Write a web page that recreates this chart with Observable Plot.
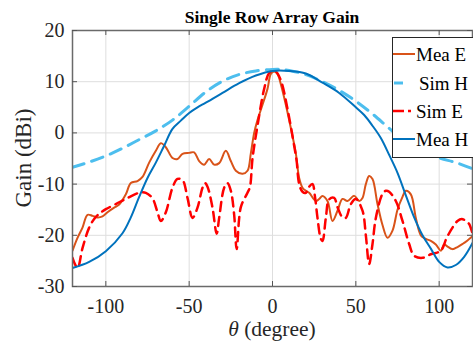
<!DOCTYPE html>
<html><head><meta charset="utf-8">
<script src="https://cdn.jsdelivr.net/npm/d3@7"></script>
<script src="https://cdn.jsdelivr.net/npm/@observablehq/plot@0.6"></script>
<style>body{margin:0;background:#fff} svg{display:block}</style>
</head><body><div id="chart"></div>
<script>
const chartTitle = "Single Row Array Gain";
const xLabelSymbol = "θ";
const xLabelText = " (degree)";
const yLabelText = "Gain (dBi)";
const xTicks = [-100, -50, 0, 50, 100];
const yTicks = [-30, -20, -10, 0, 10, 20];
const seriesNames = ["Mea E", "Sim H", "Sim E", "Mea H"];
const seriesColors = ["#D95319", "#4DBEEE", "#FF0000", "#0072BD"];

const meaEAngle = [-120,-117,-114,-111,-108,-105,-102,-99,-95,-92,-88,-85,-81,-78,-74,-70,-67,-64,-60,-57,-54,-50,-47,-44,-41,-38,-35,-32,-28,-25,-22,-18,-15,-13,-11,-9,-6,-3,-1,1,3,5,8,10,12,14,16,18,20,22,26,28,30,33,36,39,42,45,49,52,54,56,58,60,63,66,69,72,75,78,80,83,86,89,92,95,98,101,103,105,108,111,114,117,120];
const meaEGain = [-23.0,-20.5,-18.5,-16.0,-16.2,-16.5,-16.3,-15.5,-14.6,-14.0,-12.0,-9.8,-9.4,-8.6,-5.8,-3.5,-2.0,-2.8,-4.9,-5.1,-4.1,-3.9,-3.8,-5.5,-6.2,-5.1,-6.2,-5.9,-3.5,-5.5,-7.4,-8.0,-7.4,-4.0,0.0,2.5,5.5,8.6,11.5,12.0,11.5,9.5,5.5,2.5,-0.6,-4.0,-8.8,-10.7,-11.3,-11.7,-13.3,-12.9,-12.3,-13.3,-17.2,-15.2,-12.9,-13.3,-12.3,-13.3,-12.7,-10.0,-8.4,-9.0,-13.9,-18.0,-20.5,-19.1,-15.0,-12.5,-11.3,-12.0,-16.6,-20.0,-20.7,-21.1,-21.8,-23.0,-21.8,-22.2,-22.7,-22.3,-21.7,-21.0,-20.2];

const simHAngle = [-120,-110,-100,-90,-80,-70,-60,-50,-40,-30,-20,-10,0,5,10,20,30,40,50,60,70,80,90,100,110,120];
const simHGain = [-6.7,-5.7,-4.5,-3.0,-1.3,0.4,2.5,5.2,8.0,10.1,11.4,12.1,12.4,12.4,12.2,11.4,10.0,8.3,6.2,3.7,0.9,-1.8,-3.6,-4.9,-5.8,-7.0];

const simEAngle = [-120,-117,-114,-110,-107,-104,-100,-94,-87,-80,-76,-72,-69,-67,-64,-60,-57,-54,-51,-48,-45,-42,-40.5,-39,-36,-33.5,-32,-29,-27,-25,-23,-21.5,-19,-15,-13.5,-12,-9,-5,-2,1,3,5.5,9,13,14.5,16,18,20,22,24,25.5,27,29,30,32,34,37,39,42,44,47,50,54,56,58,60,62,66,68,70,74,78,82,85,90,95,101,104.5,108,111,113.5,116,118,120];
const simEGain = [-24.4,-26.4,-22.5,-18.5,-16.8,-15.8,-14.9,-13.9,-12.7,-11.7,-11.7,-12.8,-15.5,-17.2,-15.5,-10.7,-9.0,-9.2,-12.7,-16.6,-14.6,-10.7,-9.8,-10.5,-14.6,-19.7,-16.6,-10.7,-9.8,-11.3,-16.0,-22.7,-14.5,-11.7,-10.5,-5.0,1.4,8.6,11.7,12.2,11.6,9.8,4.7,-2.5,-5.5,-10.0,-11.5,-11.7,-10.5,-10.0,-12.5,-16.6,-20.7,-21.1,-16.6,-13.0,-12.7,-14.5,-16.5,-16.6,-13.9,-12.9,-15.2,-20.0,-25.6,-21.7,-16.6,-11.9,-11.3,-11.5,-13.3,-17.2,-21.7,-24.0,-24.4,-23.7,-23.0,-20.5,-18.5,-17.2,-16.8,-17.2,-17.8,-19.7];

const meaHAngle = [-120,-110,-100,-90,-85,-80,-75,-70,-65,-60,-55,-50,-45,-40,-30,-20,-10,0,10,20,30,40,50,55,60,65,70,75,80,85,90,95,100,105,110,115,120];
const meaHGain = [-26.4,-25.2,-23.1,-19.6,-16.5,-12.5,-8.8,-5.8,-2.5,0.8,2.4,3.9,5.0,5.9,7.8,9.7,11.2,12.1,12.1,11.6,9.8,7.8,5.0,3.5,1.4,-1.0,-4.3,-7.8,-12.2,-16.5,-20.0,-22.6,-25.2,-26.3,-25.8,-24.2,-21.5];

const toRows = (a, g) => a.map((x, i) => ({x, y: g[i]}));
const series = {
  "Mea E": toRows(meaEAngle, meaEGain),
  "Sim H": toRows(simHAngle, simHGain),
  "Sim E": toRows(simEAngle, simEGain),
  "Mea H": toRows(meaHAngle, meaHGain)
};
const lineStyle = {
  "Mea E": {strokeWidth: 2, strokeDasharray: null},
  "Sim H": {strokeWidth: 3, strokeDasharray: "12,8"},
  "Sim E": {strokeWidth: 2.5, strokeDasharray: "9,6"},
  "Mea H": {strokeWidth: 2, strokeDasharray: null}
};

const W = 473, H = 345, mL = 72, mR = 1, mT = 30, mB = 59;
const fw = W - mL - mR, fh = H - mT - mB;

const marks = [
  Plot.gridX(xTicks, {stroke: "#dedede", strokeOpacity: 1}),
  Plot.gridY(yTicks, {stroke: "#dedede", strokeOpacity: 1}),
];
seriesNames.forEach((name, i) => {
  const s = lineStyle[name];
  marks.push(Plot.line(series[name], {x: "x", y: "y", stroke: seriesColors[i], strokeWidth: s.strokeWidth, strokeDasharray: s.strokeDasharray, curve: "catmull-rom", clip: true}));
});
marks.push(
  Plot.frame({stroke: "#6a6a6a", strokeWidth: 1.5}),
  Plot.tickX(xTicks, {x: d => d, insetTop: fh - 5, stroke: "#555"}),
  Plot.tickX(xTicks, {x: d => d, insetBottom: fh - 5, stroke: "#555"}),
  Plot.tickY(yTicks, {y: d => d, insetRight: fw - 5, stroke: "#555"}),
  Plot.tickY(yTicks, {y: d => d, insetLeft: fw - 5, stroke: "#555"}),
  Plot.axisX({ticks: xTicks, tickSize: 0, tickPadding: 12, label: null, tickFormat: d => String(d)}),
  Plot.axisY({ticks: yTicks, tickSize: 0, tickPadding: 8, label: null, tickFormat: d => String(d)})
);

const plot = Plot.plot({
  width: W, height: H,
  marginLeft: mL, marginRight: mR, marginTop: mT, marginBottom: mB,
  x: {domain: [-120, 120]},
  y: {domain: [-30, 20]},
  style: {fontFamily: "'Liberation Serif', 'Times New Roman', serif", fontSize: "20px", color: "#262626", background: "#fff"},
  marks
});
document.getElementById("chart").appendChild(plot);

const svg = d3.select(plot);
const ff = "'Liberation Serif', 'Times New Roman', serif";
svg.append("text").attr("x", 272).attr("y", 23).attr("text-anchor", "middle")
  .attr("font-family", ff).attr("font-weight", "bold").attr("font-size", 17.5).attr("fill", "#000").text(chartTitle);
const xl = svg.append("text").attr("x", 272).attr("y", 336).attr("text-anchor", "middle")
  .attr("font-family", ff).attr("font-size", 21.5).attr("fill", "#262626");
xl.append("tspan").attr("font-style", "italic").text(xLabelSymbol);
xl.append("tspan").text(xLabelText);
svg.append("text").attr("transform", "translate(31,158) rotate(-90)").attr("text-anchor", "middle")
  .attr("font-family", ff).attr("font-size", 23).attr("fill", "#262626").text(yLabelText);

// legend
const lg = svg.append("g");
lg.append("rect").attr("x", 392.5).attr("y", 37.5).attr("width", 82).attr("height", 120)
  .attr("fill", "#fff").attr("stroke", "#262626").attr("stroke-width", 1);
const legY = [54, 83, 111, 139];
const legDash = {"Mea E": null, "Sim H": "9,30", "Sim E": "11,4"};
seriesNames.forEach((name, i) => {
  const s = lineStyle[name];
  const x1 = name === "Sim H" ? 394 : 393;
  lg.append("line").attr("x1", x1).attr("x2", name === "Sim E" ? 411 : 415)
    .attr("y1", legY[i]).attr("y2", legY[i])
    .attr("stroke", seriesColors[i]).attr("stroke-width", s.strokeWidth)
    .attr("stroke-dasharray", legDash[name] || null);
  lg.append("text").attr("x", name === "Sim H" ? 419 : 416).attr("y", legY[i]).attr("dy", "0.35em")
    .attr("text-anchor", "start")
    .attr("font-family", ff).attr("font-size", 19).attr("fill", "#000").text(name);
});
</script></body></html>
